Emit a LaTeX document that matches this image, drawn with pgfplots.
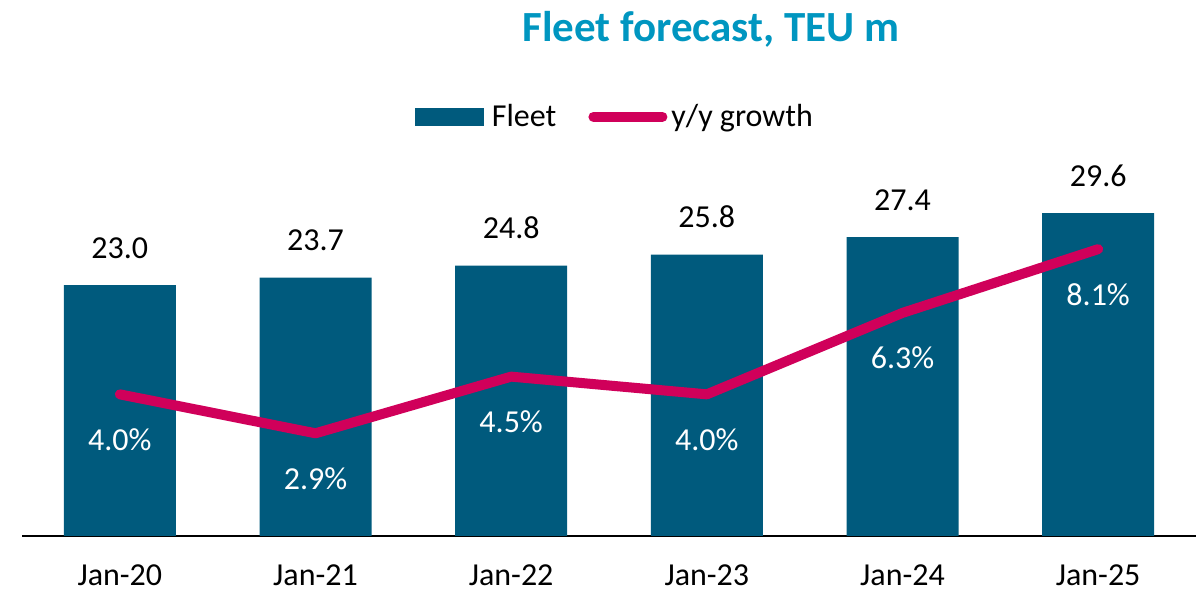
\documentclass[border=0pt]{standalone}
\usepackage{pgfplots}
\pgfplotsset{compat=1.18}
\usepackage{fontspec}
\setmainfont{Carlito}
\definecolor{barc}{RGB}{0,90,125}
\definecolor{linec}{RGB}{208,0,90}
\definecolor{titlec}{RGB}{0,150,192}
\begin{document}
\begin{tikzpicture}[x=1pt,y=1pt]
\useasboundingbox (0,0) rectangle (602,296);
\node[font=\fontsize{21.5}{25}\selectfont\bfseries, text=titlec] at (355.5,281.5) {Fleet forecast, TEU m};
\begin{axis}[
  at={(11pt,28pt)}, anchor=south west,
  scale only axis, width=587pt, height=193pt,
  xmin=-0.5, xmax=5.5, ymin=0, ymax=35.4,
  axis x line*=bottom, axis y line=none,
  axis line style={black, line width=0.9pt, -},
  xtick={0,1,2,3,4,5},
  xticklabels={Jan-20,Jan-21,Jan-22,Jan-23,Jan-24,Jan-25},
  major tick length=0pt,
  xticklabel style={anchor=base, inner sep=0pt, yshift=-25pt, font=\fontsize{16}{19}\selectfont},
  /pgf/number format/assume math mode=true,
  /pgf/number format/fixed, /pgf/number format/fixed zerofill, /pgf/number format/precision=1,
  ybar, bar width=56pt,
  nodes near coords,
  nodes near coords style={anchor=base, yshift=13.5pt, font=\fontsize{16}{19}\selectfont, text=black},
]
\addplot[fill=barc, draw=none] coordinates {(0,23.0) (1,23.7) (2,24.8) (3,25.8) (4,27.4) (5,29.6)};
\end{axis}
\begin{axis}[
  at={(11pt,28pt)}, anchor=south west,
  scale only axis, width=587pt, height=193pt,
  xmin=-0.5, xmax=5.5, ymin=0, ymax=10.9,
  hide axis,
  /pgf/number format/assume math mode=true,
  /pgf/number format/fixed, /pgf/number format/fixed zerofill, /pgf/number format/precision=1,
  legend style={draw=none, fill=none, at={(0.506,1.086)}, anchor=center,
    legend columns=2, font=\fontsize{16}{19}\selectfont,
    /tikz/every even column/.append style={column sep=14pt},
    nodes={inner sep=2pt}},
]
\addlegendimage{legend image code/.code={\fill[barc] (0pt,-4.25pt) rectangle (34pt,4.25pt);}}
\addlegendentry{\hspace{2pt}Fleet}
\addplot[linec, line width=5pt, line cap=round, line join=round, mark=none,
  nodes near coords={\pgfmathprintnumber{\pgfplotspointmeta}\%},
  nodes near coords style={anchor=base, yshift=-28pt, font=\fontsize{16}{19}\selectfont, text=white},
  legend image code/.code={\draw[linec, line width=5pt, line cap=round] (2.5pt,0pt) -- (37pt,0pt);}]
  coordinates {(0,4.0) (1,2.9) (2,4.5) (3,4.0) (4,6.3) (5,8.1)};
\addlegendentry{y/y growth}
\end{axis}
\end{tikzpicture}
\end{document}
